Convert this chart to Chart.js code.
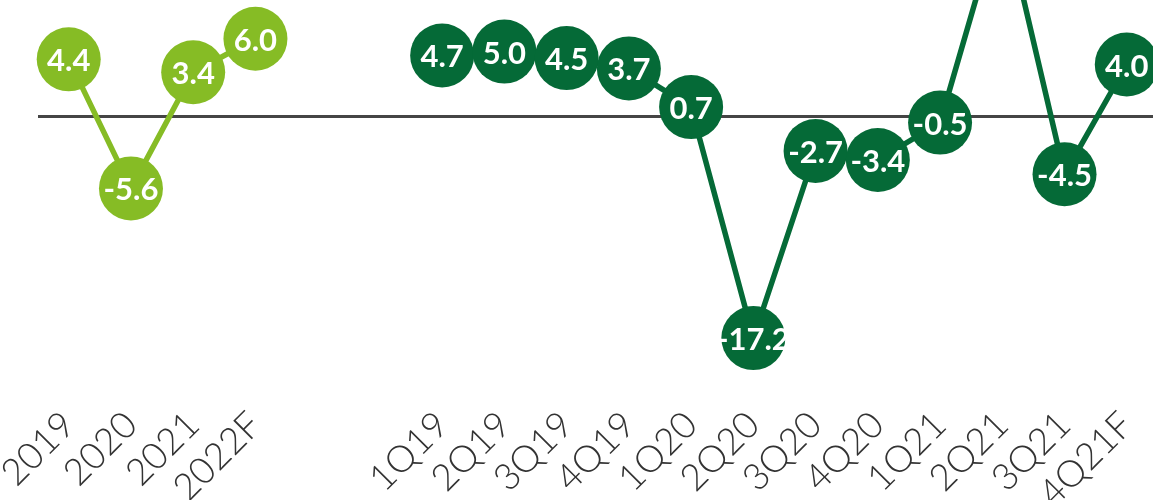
<!DOCTYPE html>
<html>
<head>
<meta charset="utf-8">
<script src="https://cdn.jsdelivr.net/npm/chart.js@4/dist/chart.umd.min.js"></script>
<style>
    html, body { margin: 0; padding: 0; background: #ffffff; overflow: hidden; }
    #wrap { position: relative; width: 1160px; height: 500px; }
</style>
</head>
<body>
<div id="wrap"><canvas id="gdpChart"></canvas></div>
<script>
    // categories: four years, two empty slots, twelve quarters
    const yearLabels = ["2019", "2020", "2021", "2022F"];
    const gapLabels = ["", ""];
    const quarterLabels = ["1Q19", "2Q19", "3Q19", "4Q19", "1Q20", "2Q20", "3Q20", "4Q20", "1Q21", "2Q21", "3Q21", "4Q21F"];

    const annualValues = [4.4, -5.6, 3.4, 6.0];
    const quarterlyValues = [4.7, 5.0, 4.5, 3.7, 0.7, -17.2, -2.7, -3.4, -0.5, 16.1, -4.5, 4.0];

    const LIGHT_GREEN = "#86bc25";
    const DARK_GREEN = "#056a37";

    const categories = [...yearLabels, ...gapLabels, ...quarterLabels];
    const emptyQuarters = quarterLabels.map(() => null);
    const emptyYears = [...yearLabels, ...gapLabels].map(() => null);

    const bubbleLabels = {
        id: "bubbleLabels",
        afterDatasetsDraw(chart) {
            const { ctx } = chart;
            ctx.save();
            ctx.font = "700 31px Lato";
            ctx.textAlign = "center";
            ctx.textBaseline = "alphabetic";
            ctx.fillStyle = "#ffffff";
            chart.data.datasets.forEach((dataset, i) => {
                const meta = chart.getDatasetMeta(i);
                meta.data.forEach((point, index) => {
                    const value = dataset.data[index];
                    if (value === null || value === undefined) {
                        return;
                    }
                    ctx.fillText(value.toFixed(1), point.x, point.y + 12);
                });
            });
            ctx.restore();
        }
    };

    function lineDataset(data, color) {
        return {
            data,
            borderColor: color,
            backgroundColor: color,
            borderWidth: 5.5,
            pointRadius: 32,
            pointHoverRadius: 32,
            pointBorderWidth: 0,
            pointBackgroundColor: color,
            tension: 0,
            spanGaps: false,
            clip: false
        };
    }

    new Chart(document.getElementById("gdpChart"), {
        type: "line",
        data: {
            labels: categories,
            datasets: [
                lineDataset([...annualValues, ...gapLabels.map(() => null), ...emptyQuarters], LIGHT_GREEN),
                lineDataset([...emptyYears, ...quarterlyValues], DARK_GREEN)
            ]
        },
        options: {
            responsive: true,
            maintainAspectRatio: false,
            animation: false,
            events: [],
            layout: { autoPadding: false, padding: { left: 37.6, right: 2.1, top: 0, bottom: 0 } },
            plugins: {
                legend: { display: false },
                tooltip: { enabled: false }
            },
            scales: {
                x: {
                    offset: true,
                    grid: { display: false },
                    border: { display: false },
                    ticks: {
                        autoSkip: false,
                        minRotation: 45,
                        maxRotation: 45,
                        padding: -5,
                        labelOffset: 0,
                        color: "#333333",
                        font: { family: "Lato", size: 37, weight: "300" }
                    },
                    afterFit(scale) {
                        scale.height = 100;
                    }
                },
                y: {
                    min: -22,
                    max: 9,
                    border: { display: false },
                    grid: {
                        drawTicks: false,
                        color: "#454545",
                        lineWidth: 3
                    },
                    ticks: { display: false },
                    afterBuildTicks(scale) {
                        scale.ticks = [{ value: 0 }];
                    }
                }
            }
        },
        plugins: [bubbleLabels]
    });
</script>
</body>
</html>
